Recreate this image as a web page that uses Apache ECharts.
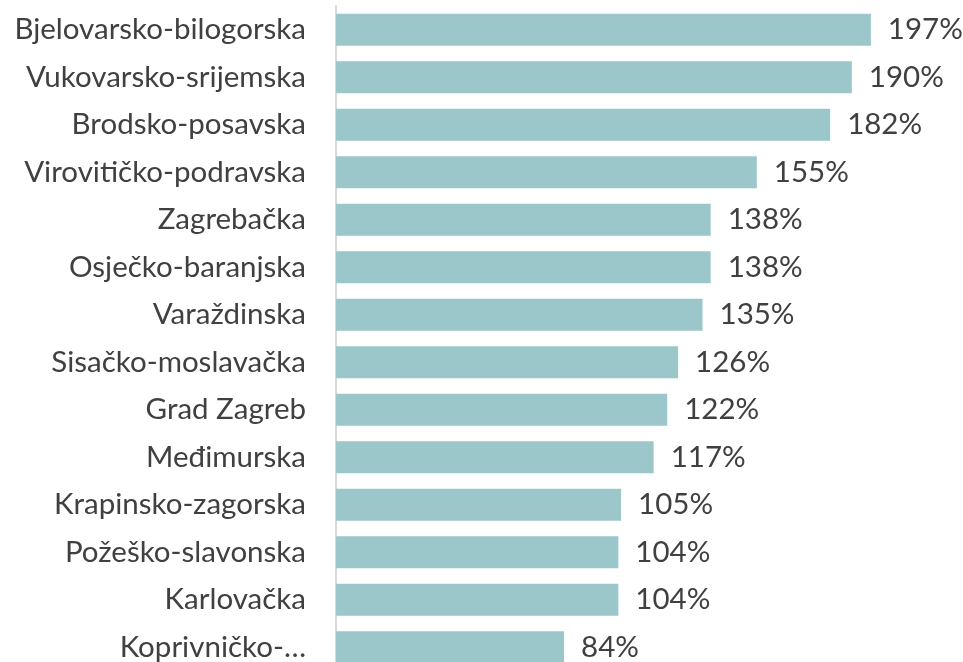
<!DOCTYPE html>
<html>
<head>
<meta charset="utf-8">
<script src="https://cdn.jsdelivr.net/npm/echarts@6/dist/echarts.min.js"></script>
<style>
  html, body { margin: 0; padding: 0; background: #fff; overflow: hidden; }
  /* the last row runs past the bottom edge, as in the original */
  #chart { width: 963px; height: 671px; }
</style>
</head>
<body>
<div id="chart"></div>
<script>
// županije, odozgo prema dolje
const counties = [
  'Bjelovarsko-bilogorska',
  'Vukovarsko-srijemska',
  'Brodsko-posavska',
  'Virovitičko-podravska',
  'Zagrebačka',
  'Osječko-baranjska',
  'Varaždinska',
  'Sisačko-moslavačka',
  'Grad Zagreb',
  'Međimurska',
  'Krapinsko-zagorska',
  'Požeško-slavonska',
  'Karlovačka',
  'Koprivničko-…'
]
const shares = [197, 190, 182, 155, 138, 138, 135, 126, 122, 117, 105, 104, 104, 84]

const chart = echarts.init(document.getElementById('chart'))
chart.setOption({
  animation: false,
  grid: {
    left: 336,
    right: 84,
    top: 6,
    bottom: 0,
    containLabel: false
  },
  xAxis: {
    type: 'value',
    min: 0,
    max: 200,
    show: false
  },
  yAxis: {
    type: 'category',
    inverse: true,
    data: counties,
    axisLine: { show: true, lineStyle: { color: '#d9d9d9', width: 2 } },
    axisTick: { show: false },
    axisLabel: {
      margin: 30,
      fontFamily: 'Lato',
      fontSize: 29.5,
      color: '#404040'
    }
  },
  series: [
    {
      type: 'bar',
      data: shares,
      barWidth: 32,
      itemStyle: { color: '#9bc6ca' },
      label: {
        show: true,
        position: 'right',
        distance: 17,
        formatter: (p) => p.value + '%',
        fontFamily: 'Lato',
        fontSize: 29.5,
        color: '#404040'
      }
    }
  ]
})
</script>
</body>
</html>
